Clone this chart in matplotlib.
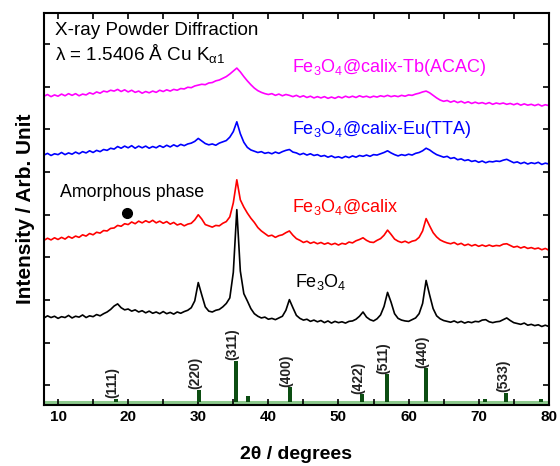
import numpy as np
import matplotlib
matplotlib.use("Agg")
import matplotlib.pyplot as plt

plt.rcParams['font.family'] = ['Liberation Sans', 'DejaVu Sans']
plt.rcParams['mathtext.fontset'] = 'custom'
plt.rcParams['mathtext.rm'] = 'Liberation Sans'
plt.rcParams['mathtext.it'] = 'Liberation Sans:italic'
plt.rcParams['mathtext.bf'] = 'Liberation Sans:bold'

# scan grid, 2theta in degrees
two_theta = np.arange(8, 80.01, 0.5)

# Fe3O4 (black)
fe3o4 = [
    158, 163, 159, 162, 157, 161, 159, 164, 158, 162, 160, 165, 159, 163, 161, 166, 163, 168, 172, 178,
    186, 191, 182, 177, 179, 174, 177, 172, 175, 170, 174, 169, 172, 168, 173, 168, 171, 167, 172, 169,
    173, 176, 182, 198, 241, 212, 184, 174, 172, 176, 178, 184, 192, 205, 265, 412, 268, 215, 198, 180,
    168, 162, 158, 160, 155, 157, 154, 158, 162, 176, 201, 182, 164, 157, 153, 155, 150, 153, 149, 152,
    147, 151, 146, 150, 147, 149, 146, 150, 151, 155, 162, 172, 160, 154, 151, 156, 165, 185, 218, 195,
    168, 157, 153, 151, 150, 154, 158, 168, 192, 246, 212, 180, 163, 156, 152, 150, 148, 151, 147, 150,
    146, 149, 147, 150, 149, 153, 154, 149, 147, 149, 150, 154, 158, 152, 147, 145, 143, 146, 141, 143,
    140, 142, 138, 141, 138,
]

# Fe3O4@calix (red)
fe3o4_calix = [
    340, 345, 341, 346, 342, 347, 343, 349, 345, 350, 347, 353, 350, 356, 353, 359, 357, 363, 362, 368,
    369, 375, 373, 379, 377, 383, 379, 385, 381, 386, 382, 387, 381, 385, 380, 384, 378, 382, 376, 379,
    374, 378, 380, 388, 400, 390, 377, 374, 371, 375, 374, 380, 384, 395, 428, 482, 435, 418, 404, 392,
    382, 370, 362, 356, 350, 352, 347, 351, 353, 358, 362, 352, 344, 340, 335, 338, 333, 336, 332, 335,
    331, 334, 330, 333, 329, 333, 331, 336, 334, 339, 342, 346, 340, 336, 335, 340, 344, 352, 364, 354,
    343, 338, 335, 338, 334, 338, 340, 347, 362, 391, 374, 358, 348, 341, 337, 334, 332, 335, 330, 333,
    328, 331, 327, 330, 326, 329, 326, 329, 326, 328, 327, 331, 332, 328, 324, 326, 322, 325, 321, 323,
    320, 322, 318, 321, 317,
]

# Fe3O4@calix-Eu(TTA) (blue)
fe3o4_calix_eu = [
    540, 544, 539, 543, 541, 546, 541, 545, 542, 547, 543, 548, 545, 550, 546, 551, 548, 553, 551, 556,
    554, 560, 556, 561, 557, 562, 556, 561, 557, 561, 556, 560, 557, 562, 558, 563, 559, 564, 560, 565,
    562, 566, 568, 572, 579, 573, 567, 564, 566, 563, 568, 571, 574, 582, 595, 618, 590, 570, 558, 552,
    549, 546, 548, 544, 546, 543, 547, 544, 548, 551, 553, 547, 545, 541, 544, 540, 543, 539, 541, 537,
    539, 535, 538, 534, 536, 533, 537, 534, 538, 535, 539, 537, 540, 537, 541, 540, 543, 546, 550, 545,
    541, 538, 541, 539, 542, 540, 544, 546, 550, 556, 552, 546, 541, 538, 535, 537, 532, 534, 529, 531,
    527, 529, 525, 527, 523, 526, 522, 525, 524, 526, 525, 528, 530, 526, 522, 524, 520, 523, 519, 522,
    520, 523, 518, 521, 519,
]

# Fe3O4@calix-Tb(ACAC) (magenta)
fe3o4_calix_tb = [
    678, 682, 677, 681, 678, 683, 679, 684, 680, 684, 679, 683, 681, 686, 683, 688, 685, 690, 688, 692,
    690, 694, 689, 693, 688, 692, 687, 690, 685, 689, 686, 690, 687, 692, 689, 693, 690, 694, 692, 696,
    695, 699, 698, 702, 704, 706, 705, 709, 710, 714, 716, 720, 724, 730, 737, 744, 735, 724, 714, 705,
    697, 691, 687, 684, 682, 684, 680, 683, 679, 682, 680, 677, 680, 676, 679, 675, 678, 674, 677, 674,
    677, 673, 676, 673, 677, 674, 678, 675, 678, 675, 679, 676, 678, 675, 678, 676, 679, 677, 680, 677,
    679, 677, 680, 678, 681, 680, 683, 685, 688, 690, 686, 680, 674, 669, 666, 668, 664, 667, 663, 666,
    662, 665, 661, 664, 661, 663, 660, 663, 659, 662, 660, 662, 659, 661, 658, 661, 657, 660, 657, 659,
    656, 659, 655, 658, 656,
]

# reference pattern (JCPDS Fe3O4)
ref_pos = [18.27, 30.1, 35.42, 37.05, 43.05, 53.39, 56.94, 62.52, 70.93, 73.95, 78.93]
ref_height = [9, 30, 98, 14, 35, 19, 66, 80, 9, 23, 9]
ref_hkl = ['(111)', '(220)', '(311)', '', '(400)', '(422)', '(511)', '(440)', '', '(533)', '']
ref_base = -40

fig = plt.figure(figsize=(5.6, 4.66), dpi=100)
ax = fig.add_axes([0.0786, 0.131, 0.9014, 0.841])

ax.plot(two_theta, fe3o4, color='black', lw=1.2)
ax.plot(two_theta, fe3o4_calix, color='#ff0000', lw=1.2)
ax.plot(two_theta, fe3o4_calix_eu, color='#0000ff', lw=1.2)
ax.plot(two_theta, fe3o4_calix_tb, color='#ff00ff', lw=1.2)

ax.axhline(ref_base, color='#8cc98c', lw=2.2, zorder=1)
ax.bar(ref_pos, ref_height, bottom=ref_base, width=0.55, color='#0c4d12', zorder=2)
for x, h, lab in zip(ref_pos, ref_height, ref_hkl):
    if lab:
        ax.text(x - 0.5, ref_base + h + 1, lab, rotation=90, ha='center', va='bottom',
                fontsize=10, fontweight='bold', color='#222222')

# annotations
ax.text(9.6, 833, 'X-ray Powder Diffraction', fontsize=13.6, va='center', ha='left')
ax.text(9.6, 779, r'λ = 1.5406 Å Cu K$_{\mathrm{α1}}$', fontsize=13.6, va='center', ha='left')
ax.text(43.4, 746, r'Fe$_3$O$_4$@calix-Tb(ACAC)', fontsize=13, color='#ff00ff', va='center')
ax.text(43.4, 599, r'Fe$_3$O$_4$@calix-Eu(TTA)', fontsize=13, color='#0000ff', va='center')
ax.text(43.4, 419, r'Fe$_3$O$_4$@calix', fontsize=13, color='#ff0000', va='center')
ax.text(43.8, 243, r'Fe$_3$O$_4$', fontsize=13, color='black', va='center')
ax.text(10.3, 452, 'Amorphous phase', fontsize=12.8, va='center', ha='left')
ax.plot([19.8], [405], 'o', color='black', ms=7)

ax.set_xlim(8, 80)
ax.set_ylim(-46, 873)
ax.set_xticks([10, 20, 30, 40, 50, 60, 70, 80])
ax.set_xticks(np.arange(10, 80, 5), minor=True)
ax.set_yticks(np.arange(0, 801, 100))
ax.set_yticklabels([])
ax.tick_params(which='both', direction='in', top=True, right=True, length=4, width=1.2)
ax.tick_params(axis='x', labelsize=11)
for lab in ax.get_xticklabels():
    lab.set_fontweight('bold')
for sp in ax.spines.values():
    sp.set_linewidth(1.5)

ax.set_xlabel('2θ / degrees', fontsize=14, fontweight='bold', labelpad=16)
ax.set_ylabel('Intensity / Arb. Unit', fontsize=15, fontweight='bold', labelpad=3)

fig.savefig('out.png', dpi=100)
